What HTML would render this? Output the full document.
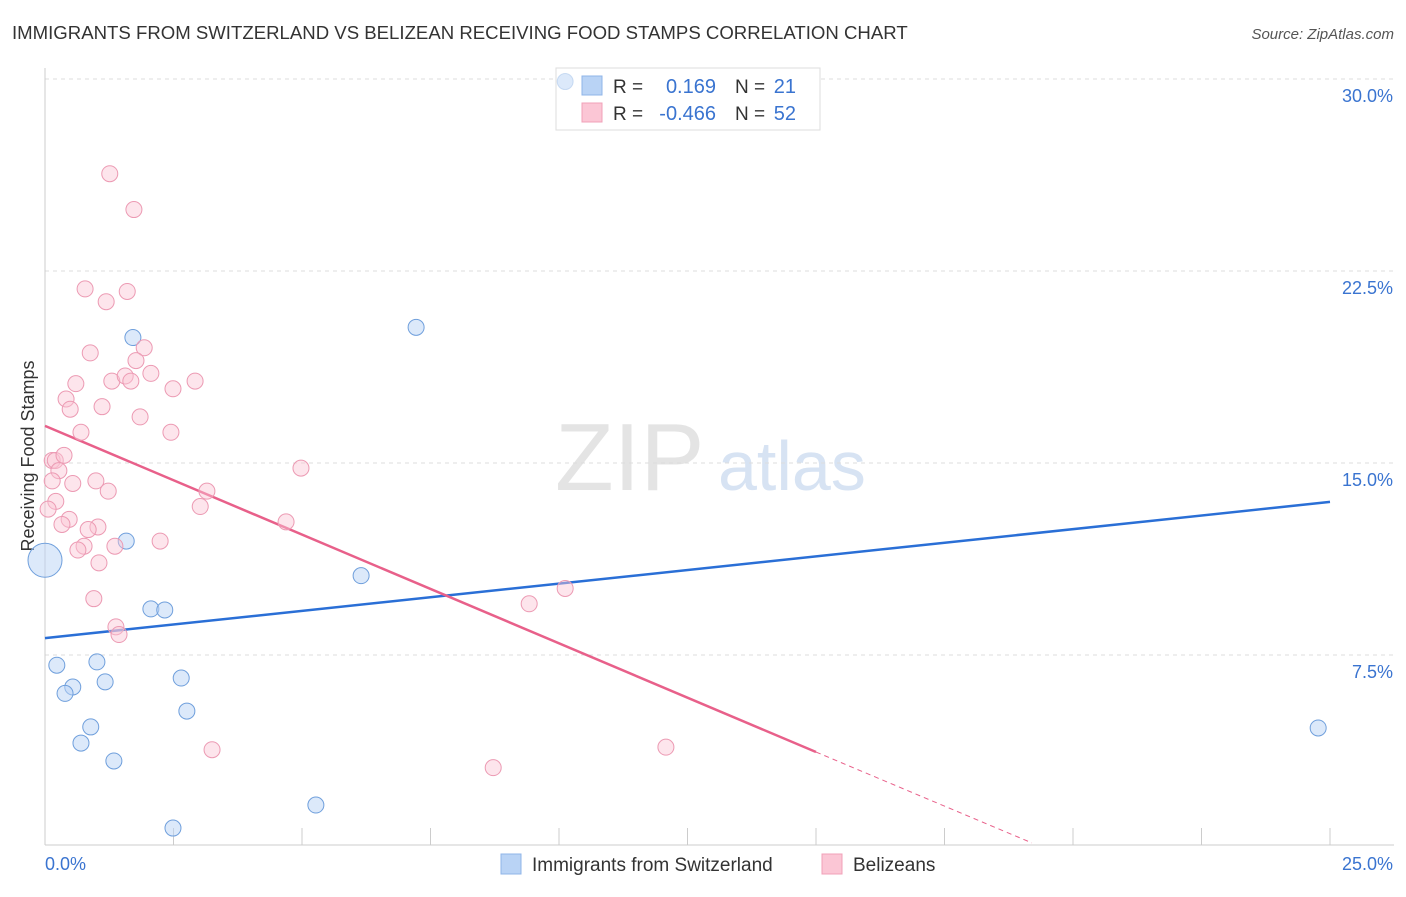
<!DOCTYPE html>
<html><head><meta charset="utf-8"><style>
body{margin:0;background:#fff;font-family:"Liberation Sans",sans-serif}
svg text{font-family:"Liberation Sans",sans-serif}
</style></head><body>
<svg id="chart" width="1406" height="892">
<text x="12" y="39" font-size="18.6" fill="#333">IMMIGRANTS FROM SWITZERLAND VS BELIZEAN RECEIVING FOOD STAMPS CORRELATION CHART</text>
<text x="1394" y="39" font-size="15" fill="#555" font-style="italic" text-anchor="end">Source: ZipAtlas.com</text>
<text x="555" y="490" font-size="96" fill="#e4e4e4" font-family="Liberation Serif,serif">ZIP</text>
<text x="718" y="490" font-size="70" fill="#d7e3f3">atlas</text>
<text transform="translate(34,456) rotate(-90)" font-size="18" fill="#333" text-anchor="middle">Receiving Food Stamps</text>
<g id="grid"></g><g id="ticks"></g><g id="trend"></g>
<g>
<rect x="556" y="68" width="264" height="62" fill="#fff" stroke="#ddd"/>
<rect x="582" y="76" width="20" height="19" fill="#b9d3f5" stroke="#8fb5e8"/>
<rect x="582" y="103" width="20" height="19" fill="#fbc6d5" stroke="#f0a0b8"/>
<text x="613" y="93" font-size="19" fill="#333">R =</text><text x="716" y="93" font-size="20" fill="#3a74d0" text-anchor="end">0.169</text>
<text x="735" y="93" font-size="19" fill="#333">N =</text><text x="796" y="93" font-size="20" fill="#3a74d0" text-anchor="end">21</text>
<text x="613" y="120" font-size="19" fill="#333">R =</text><text x="716" y="120" font-size="20" fill="#3a74d0" text-anchor="end">-0.466</text>
<text x="735" y="120" font-size="19" fill="#333">N =</text><text x="796" y="120" font-size="20" fill="#3a74d0" text-anchor="end">52</text>
</g>
<g id="pts"></g>
<g>
<rect x="501" y="854" width="20" height="20" fill="#b9d3f5" stroke="#8fb5e8"/>
<text x="532" y="871" font-size="19" fill="#333">Immigrants from Switzerland</text>
<rect x="822" y="854" width="20" height="20" fill="#fbc6d5" stroke="#f0a0b8"/>
<text x="853" y="871" font-size="19" fill="#333">Belizeans</text>
</g>
</svg>
<script>
const yTicks=[7.5,15,22.5,30];
const yTickLabels=["7.5%","15.0%","22.5%","30.0%"];
const xTicks=[0,2.5,5,7.5,10,12.5,15,17.5,20,22.5,25];
const blueX=[10.12,0,1.71,7.22,1.58,6.15,2.06,2.33,0.23,1.01,1.17,2.65,0.54,0.39,2.76,0.89,0.70,1.34,5.27,2.49,24.77];
const blueY=[29.9,11.2,19.9,20.3,11.95,10.6,9.3,9.26,7.1,7.23,6.45,6.6,6.25,6.0,5.31,4.69,4.06,3.36,1.64,0.74,4.65];
const pinkX=[1.26,1.73,0.78,1.6,1.19,0.88,1.93,1.77,0.6,1.3,1.56,1.67,2.06,2.92,2.49,0.41,0.49,1.11,1.85,0.7,2.45,0.14,0.2,0.37,0.27,0.14,0.54,0.99,1.23,3.15,0.21,0.06,3.02,0.47,0.33,1.03,0.84,4.98,4.69,2.24,0.76,0.64,1.36,1.05,0.95,1.38,1.44,3.25,8.72,9.42,10.12,12.08];
const pinkY=[26.3,24.9,21.8,21.7,21.3,19.3,19.5,19.0,18.1,18.2,18.4,18.2,18.5,18.2,17.9,17.5,17.1,17.2,16.8,16.2,16.2,15.1,15.1,15.3,14.7,14.3,14.2,14.3,13.9,13.9,13.5,13.2,13.3,12.8,12.6,12.5,12.4,14.8,12.7,11.95,11.75,11.6,11.75,11.1,9.7,8.6,8.3,3.8,3.1,9.5,10.1,3.9];
const blueTrend=[[0,8.16],[25,13.48]];
const pinkTrend=[[0,16.45],[15,3.71]];
const pinkTrendDash=[[15,3.71],[19.2,0.16]];
const X=v=>45+v*51.4, Y=v=>847-v*25.6;
const NS="http://www.w3.org/2000/svg";
function mk(g,tag,a){const e=document.createElementNS(NS,tag);for(const k in a)e.setAttribute(k,a[k]);document.getElementById(g).appendChild(e);return e;}
yTicks.forEach((t,i)=>{
 const l=mk('grid','line',{x1:45,x2:1394,y1:Y(t),y2:Y(t),stroke:'#ddd','stroke-dasharray':'4,4'});
 
 
 const tx=mk('grid','text',{x:1393,y:Y(t)+23,'font-size':18,fill:'#3a74d0','text-anchor':'end'});
 tx.textContent=yTickLabels[i];
 
 
});
mk('ticks','line',{x1:45,x2:45,y1:68,y2:845,stroke:'#ccc'});
mk('ticks','line',{x1:45,x2:1394,y1:845,y2:845,stroke:'#ccc'});
xTicks.forEach(t=>{const l=mk('ticks','line',{x1:X(t),x2:X(t),y1:828,y2:845,stroke:'#ccc'});
 
 });
let a=mk('ticks','text',{x:45,y:870,'font-size':18,fill:'#3a74d0'});a.textContent='0.0%';


a=mk('ticks','text',{x:1393,y:870,'font-size':18,fill:'#3a74d0','text-anchor':'end'});a.textContent='25.0%';


blueX.forEach((v,i)=>{const c=mk('pts','circle',{cx:X(v),cy:Y(blueY[i]),r:i==1?17:8,fill:'rgba(185,211,245,0.5)',stroke:'#6f9fdc','stroke-width':1,'stroke-opacity':i==0?0.3:1});
 
 });
pinkX.forEach((v,i)=>{const c=mk('pts','circle',{cx:X(v),cy:Y(pinkY[i]),r:8,fill:'rgba(251,198,213,0.45)',stroke:'#ec9ab3','stroke-width':1});
 
 });
let t=mk('trend','line',{x1:X(blueTrend[0][0]),y1:Y(blueTrend[0][1]),x2:X(blueTrend[1][0]),y2:Y(blueTrend[1][1]),stroke:'#2a6fd6','stroke-width':2.5});


t=mk('trend','line',{x1:X(pinkTrend[0][0]),y1:Y(pinkTrend[0][1]),x2:X(pinkTrend[1][0]),y2:Y(pinkTrend[1][1]),stroke:'#e8608a','stroke-width':2.5});


t=mk('trend','line',{x1:X(pinkTrendDash[0][0]),y1:Y(pinkTrendDash[0][1]),x2:X(pinkTrendDash[1][0]),y2:Y(pinkTrendDash[1][1]),stroke:'#e8608a','stroke-width':1,'stroke-dasharray':'5,4'});


</script>
</body></html>
